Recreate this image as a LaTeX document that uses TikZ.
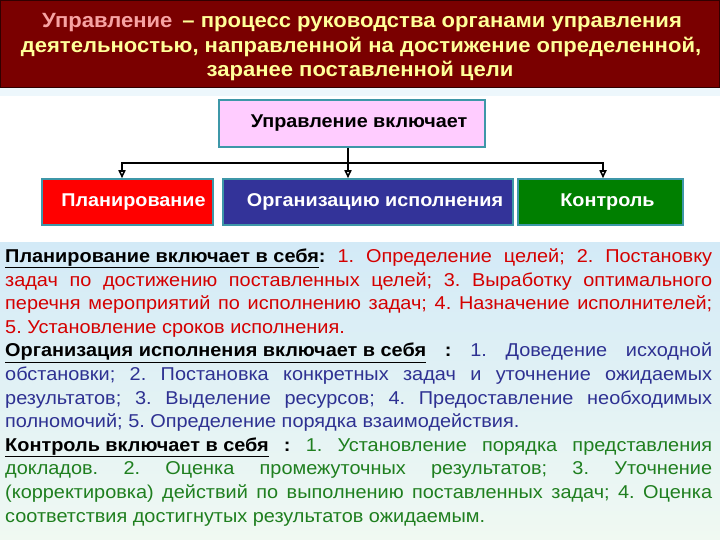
\documentclass[tikz,border=0pt]{standalone}
\usepackage{fontspec}
\setmainfont{Liberation Sans}[FakeStretch=1.07]
\usetikzlibrary{arrows.meta}
\frenchspacing
\definecolor{titlebg}{HTML}{7A0000}
\definecolor{titlepink}{HTML}{F7A3A3}
\definecolor{titleyel}{HTML}{FFFF99}
\definecolor{boxpink}{HTML}{FFCCFF}
\definecolor{boxedge}{HTML}{3E97A8}
\definecolor{planred}{HTML}{FF0000}
\definecolor{orgblue}{HTML}{333399}
\definecolor{ctrlgreen}{HTML}{007F00}
\definecolor{txtred}{HTML}{D40000}
\definecolor{txtblue}{HTML}{2E3192}
\definecolor{txtgreen}{HTML}{1F7F1F}
\definecolor{bgtop}{HTML}{D3EAF7}
\definecolor{bgbot}{HTML}{F0F9F2}
\begin{document}
\begin{tikzpicture}[x=1pt,y=-1pt,
  cat/.style={draw=boxedge,line width=1.5pt,minimum height=46pt,inner sep=0pt,
    font=\fontsize{18.5}{20}\selectfont\bfseries,text=white},
  conn/.style={line width=1.6pt,-{Triangle[open,length=8pt,width=7pt]}},
  ln/.style={anchor=base west,inner sep=0pt,font=\fontsize{18.6}{22}\selectfont\frenchspacing},
  ttl/.style={anchor=base,inner sep=0pt,font=\fontsize{20.6}{24}\selectfont\bfseries,text=titleyel}]
\useasboundingbox (0,0) rectangle (720,540);
% backgrounds
\fill[white] (0,0) rectangle (720,540);
\fill[bgtop!40] (0,88) rectangle (720,96);
\shade[top color=bgtop,bottom color=bgbot] (0,242) rectangle (720,540);
\fill[titlebg] (0,0) rectangle (720,88);
\draw[black!60!titlebg,line width=1pt] (0.5,0.5) rectangle (719.5,87.5);
% title
\node[ttl] (t1) at (362,28) {\textcolor{titlepink}{Управление}\hspace{10pt}– процесс руководства органами управления};
\node[ttl] (t2) at (361,53) {деятельностью, направленной на достижение определенной,};
\node[ttl] (t3) at (360,77) {заранее поставленной цели};
% diagram
\node[draw=boxedge,line width=1.5pt,fill=boxpink,minimum width=266pt,minimum height=47pt,inner sep=0pt,
  font=\fontsize{18.5}{20}\selectfont\bfseries] (top) at (352,123.5) {\hspace*{14pt}Управление включает};
\node[cat,fill=planred,minimum width=171pt] (plan) at (127.5,202) {\hspace*{12pt}Планирование};
\node[cat,fill=orgblue,minimum width=290pt] (org) at (368,202) {\hspace*{14pt}Организацию исполнения};
\node[cat,fill=ctrlgreen,minimum width=165pt] (ctrl) at (600.5,202) {\hspace*{14pt}Контроль};
\coordinate (hub) at (348,163);
\draw[conn] (top.south -| hub) -- (org.north -| hub);
\draw[conn] (hub) -| ([xshift=-5.5pt]plan.north);
\draw[conn] (hub) -| ([xshift=2.5pt]ctrl.north);
% body text
\def\W{707pt}
\node[ln] (l1) at (5,262.4) {\makebox[\W][s]{\textbf{\underline{Планирование включает в себя}:} \textcolor{txtred}{1. Определение целей; 2. Постановку}}};
\node[ln,text=txtred] (l2) at (5,286.0) {\makebox[\W][s]{задач по достижению поставленных целей; 3. Выработку оптимального}};
\node[ln,text=txtred] (l3) at (5,309.6) {\makebox[\W][s]{перечня мероприятий по исполнению задач; 4. Назначение исполнителей;}};
\node[ln,text=txtred] (l4) at (5,333.2) {5. Установление сроков исполнения.};
\node[ln] (l5) at (5,356.8) {\makebox[\W][s]{\textbf{\underline{Организация исполнения включает в себя} :} \textcolor{txtblue}{1. Доведение исходной}}};
\node[ln,text=txtblue] (l6) at (5,380.4) {\makebox[\W][s]{обстановки; 2. Постановка конкретных задач и уточнение ожидаемых}};
\node[ln,text=txtblue] (l7) at (5,404.0) {\makebox[\W][s]{результатов; 3. Выделение ресурсов; 4. Предоставление необходимых}};
\node[ln,text=txtblue] (l8) at (5,427.6) {полномочий; 5. Определение порядка взаимодействия.};
\node[ln] (l9) at (5,451.2) {\makebox[\W][s]{\textbf{\underline{Контроль включает в себя} :} \textcolor{txtgreen}{1. Установление порядка представления}}};
\node[ln,text=txtgreen] (l10) at (5,474.8) {\makebox[\W][s]{докладов. 2. Оценка промежуточных результатов; 3. Уточнение}};
\node[ln,text=txtgreen] (l11) at (5,498.4) {\makebox[\W][s]{(корректировка) действий по выполнению поставленных задач; 4. Оценка}};
\node[ln,text=txtgreen] (l12) at (5,522.0) {соответствия достигнутых результатов ожидаемым.};
\end{tikzpicture}
\end{document}
